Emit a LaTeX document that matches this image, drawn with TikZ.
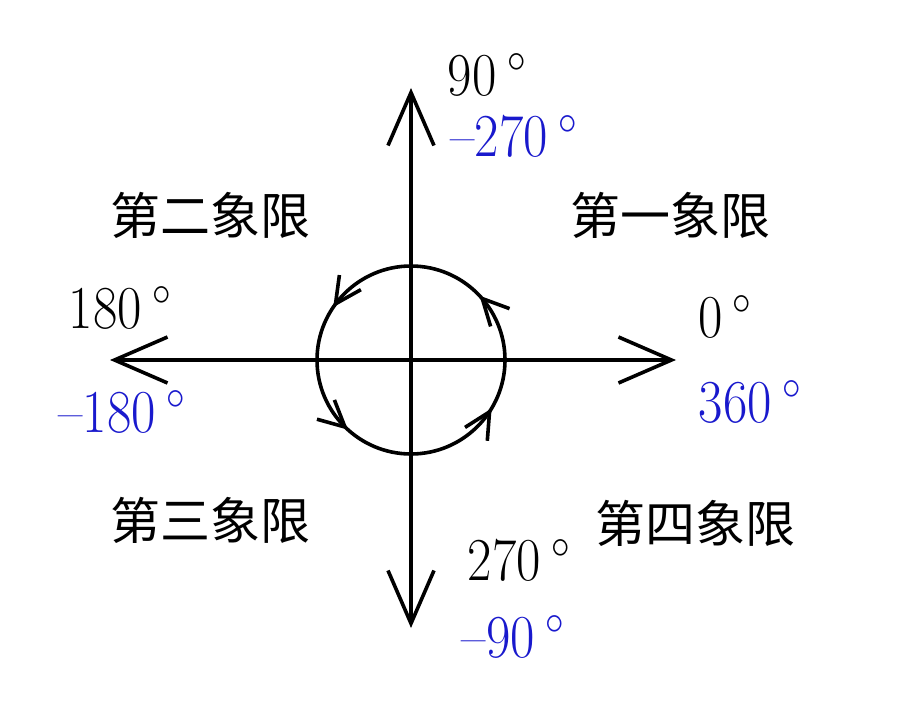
\RequirePackage{fix-cm}
\documentclass[tikz,border=0pt]{standalone}
\usepackage{fontspec}
\usepackage{graphicx}
\newfontfamily\cjk{Noto Sans CJK SC}
\usetikzlibrary{arrows.meta,decorations.markings}
\definecolor{degblue}{RGB}{25,25,205}
\newcommand{\degl}[1]{\scalebox{1}[1.15]{#1\hspace{0.2em}$^{\circ}$}}
\tikzset{
  axisline/.style={line width=3.6pt, {Straight Barb[length=53pt,width=46pt]}-{Straight Barb[length=53pt,width=46pt]}},
  quad/.style={font=\cjk\fontsize{50}{56}\selectfont, inner sep=0pt},
  deg/.style={font=\fontsize{53}{60}\selectfont, inner sep=0pt},
  blu/.style={deg, text=degblue},
  cyc/.style={line width=3.6pt, decoration={markings,
     mark=at position 0.12 with {\arrow{Straight Barb[length=26pt,width=26pt]}},
     mark=at position 0.405 with {\arrow{Straight Barb[length=26pt,width=26pt]}},
     mark=at position 0.633 with {\arrow{Straight Barb[length=26pt,width=26pt]}},
     mark=at position 0.914 with {\arrow{Straight Barb[length=26pt,width=26pt]}}}, postaction={decorate}}
}
\begin{document}
\begin{tikzpicture}[x=1pt,y=1pt]
\useasboundingbox (0,0) rectangle (901,716);
\fill[white] (0,0) rectangle (901,716);
% pixel (px,py) -> (px, 716-py)
\coordinate (O) at (411,356);
\coordinate (L) at (110,356);
\coordinate (R) at (676,356);
\coordinate (T) at (411,628);
\coordinate (B) at (411,88);
\draw[axisline] (L) -- (R);
\draw[axisline] (B) -- (T);
\draw[cyc] (O) circle[radius=94];
% quadrant labels
\node[quad] (q2) at (210,501) {第二象限};
\node[quad] (q1) at (670,501) {第一象限};
\node[quad] (q3) at (210,196) {第三象限};
\node[quad] (q4) at (695,193) {第四象限};
% degree labels
\node[deg] (d90) at (487,641) {\degl{90}};
\node[blu] (dm270) at (514,580) {\degl{--270}};
\node[deg] (d180) at (120,408) {\degl{180}};
\node[blu] (dm180) at (122,304) {\degl{--180}};
\node[deg] (d0) at (725,399) {\degl{0}};
\node[blu] (d360) at (750,314) {\degl{360}};
\node[deg] (d270) at (519,156) {\degl{270}};
\node[blu] (dm90) at (513,79) {\degl{--90}};
\end{tikzpicture}
\end{document}
